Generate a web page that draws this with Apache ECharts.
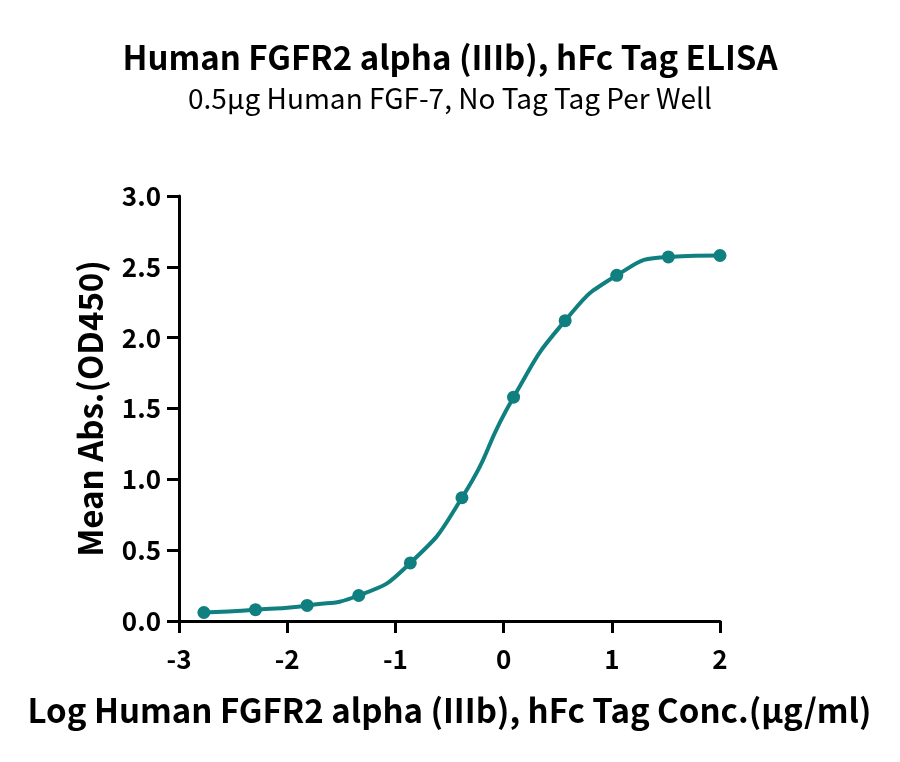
<!DOCTYPE html>
<html>
<head>
<meta charset="utf-8">
<script src="https://cdn.jsdelivr.net/npm/echarts@6/dist/echarts.min.js"></script>
<style>
  html, body { margin: 0; padding: 0; background: #fff; }
  #chart { width: 900px; height: 762px; }
</style>
</head>
<body>
<div id="chart"></div>
<script>
// log10 concentration (ug/ml), 3-fold dilutions from 100
const logConc = [-2.770, -2.293, -1.816, -1.339, -0.862, -0.385, 0.092, 0.569, 1.046, 1.523, 2.000]
const meanAbs = [0.06, 0.08, 0.11, 0.18, 0.41, 0.87, 1.58, 2.12, 2.44, 2.57, 2.58]
const xTicks = [-3, -2, -1, 0, 1, 2]
const yTicks = [0, 0.5, 1.0, 1.5, 2.0, 2.5, 3.0]

const teal = '#107f80'
const font = '"Noto Sans CJK SC", "Noto Sans", sans-serif'

const chart = echarts.init(document.getElementById('chart'))

const option = {
  backgroundColor: '#fff',
  textStyle: { fontFamily: font },
  title: {
    text: 'Human FGFR2 alpha (IIIb), hFc Tag ELISA',
    subtext: '0.5μg Human FGF-7, No Tag Tag Per Well',
    left: 'center',
    top: 36,
    itemGap: 10,
    textStyle: { fontFamily: font, fontSize: 33, fontWeight: 'bold', color: '#000' },
    subtextStyle: { fontFamily: font, fontSize: 28, fontWeight: 'normal', color: '#000' }
  },
  grid: {
    left: 179,
    right: 180,
    top: 196,
    bottom: 141
  },
  xAxis: {
    type: 'value',
    min: xTicks[0],
    max: xTicks[xTicks.length - 1],
    interval: 1,
    name: 'Log Human FGFR2 alpha (IIIb), hFc Tag Conc.(μg/ml)',
    nameLocation: 'middle',
    nameGap: 73,
    nameTextStyle: { fontFamily: font, fontSize: 33, fontWeight: 'bold', color: '#000' },
    axisLine: { onZero: false, lineStyle: { color: '#000', width: 3 } },
    axisTick: { length: 12, lineStyle: { color: '#000', width: 3 } },
    axisLabel: { margin: 25, fontFamily: font, fontSize: 26, fontWeight: 'bold', color: '#000' },
    splitLine: { show: false }
  },
  yAxis: {
    type: 'value',
    min: yTicks[0],
    max: yTicks[yTicks.length - 1],
    interval: 0.5,
    name: 'Mean Abs.(OD450)',
    nameLocation: 'middle',
    nameGap: 72,
    nameTextStyle: { fontFamily: font, fontSize: 33, fontWeight: 'bold', color: '#000' },
    axisLine: { show: true, onZero: false, lineStyle: { color: '#000', width: 3 } },
    axisTick: { show: true, length: 12, lineStyle: { color: '#000', width: 3 } },
    axisLabel: {
      margin: 18,
      fontFamily: font,
      fontSize: 26,
      fontWeight: 'bold',
      color: '#000',
      formatter: v => v.toFixed(1)
    },
    splitLine: { show: false }
  },
  series: [
    {
      type: 'line',
      data: logConc.map((x, i) => [x, meanAbs[i]]),
      smooth: 0.55,
      symbol: 'circle',
      symbolSize: 13,
      itemStyle: { color: teal },
      lineStyle: { color: teal, width: 4 },
      clip: false
    }
  ]
}

chart.setOption(option)
</script>
</body>
</html>
